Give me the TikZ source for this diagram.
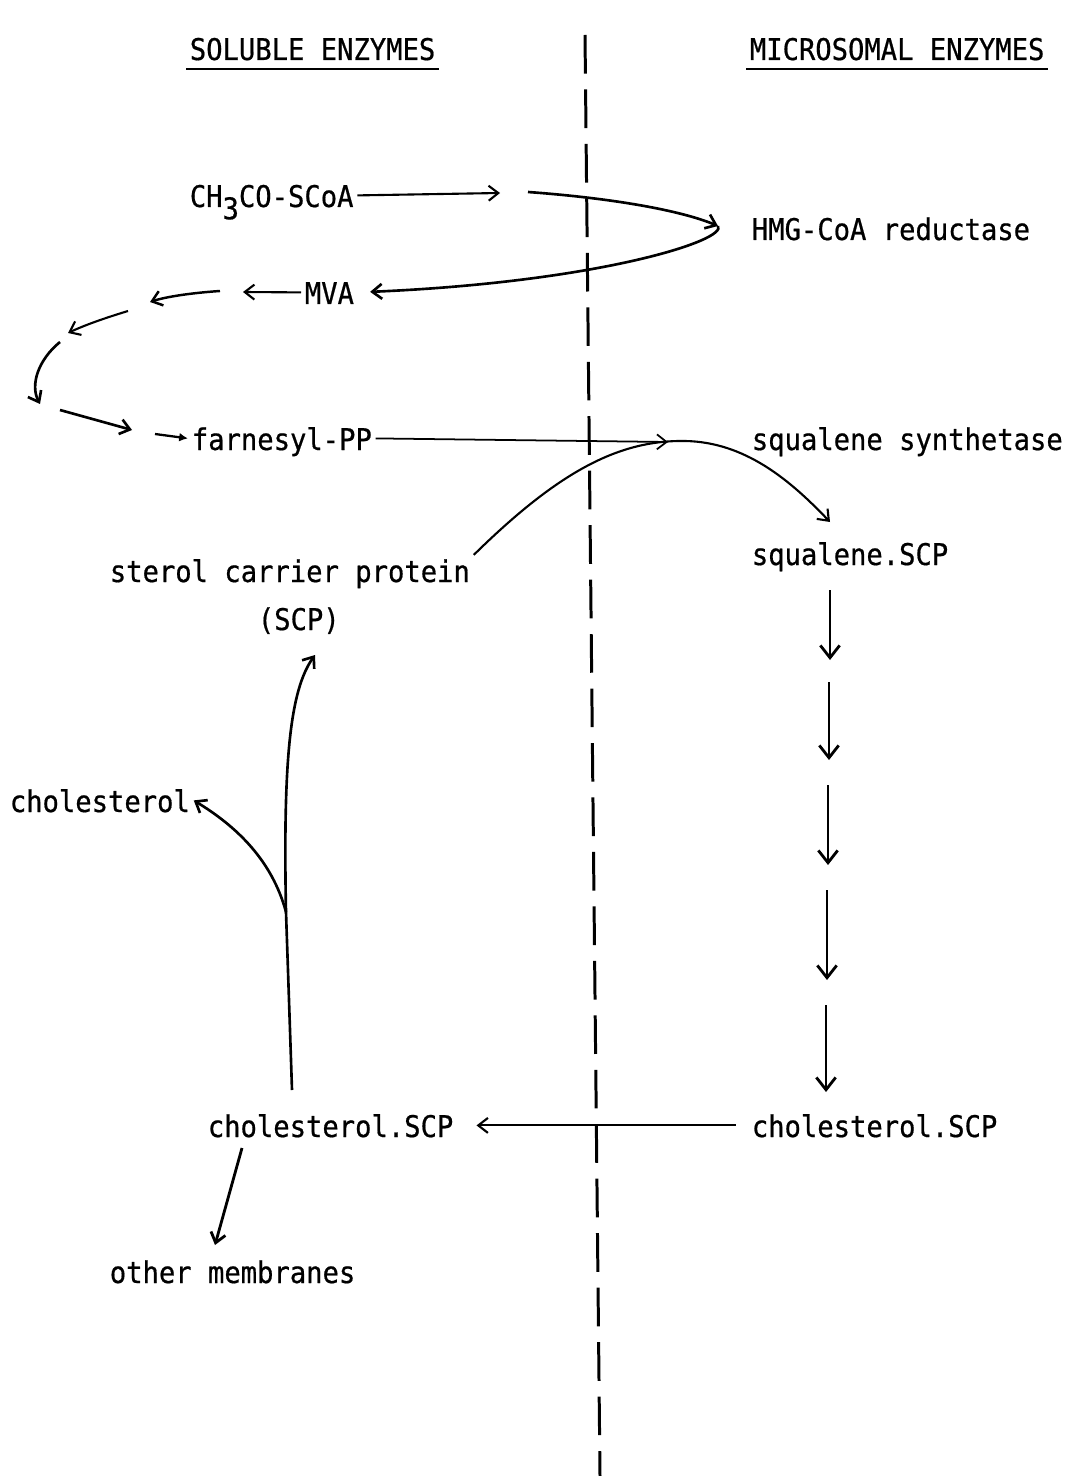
\documentclass[tikz,border=0pt]{standalone}
\usepackage{fontspec}
\newfontfamily\typewriter[FakeBold=0.6, FakeStretch=0.91]{DejaVu Sans Mono}
\usetikzlibrary{arrows.meta}
\begin{document}
\begin{tikzpicture}[
  x=0.02cm, y=-0.02cm,
  txt/.style={font=\typewriter\fontsize{17}{20}\selectfont, inner sep=2pt, anchor=base west, text height=13.2pt, text depth=0pt},
  arr/.style={-{Straight Barb[length=5.5pt,width=8.5pt]}, line width=1.2pt},
  bigarr/.style={-{Straight Barb[length=7pt,width=11pt]}, line width=1.6pt},
  solidarr/.style={-{Latex[length=5pt,width=5pt]}, line width=1.3pt},
  divider/.style={line width=1.7pt, dash pattern=on 22pt off 9pt}
]
\useasboundingbox (0,0) rectangle (1071,1476);

% Headings
\node[txt] (soluble) at (186,60) {SOLUBLE ENZYMES};
\node[txt] (microsomal) at (746,60) {MICROSOMAL ENZYMES};
\draw[line width=1.1pt] ([yshift=-3pt]soluble.south west) -- ([yshift=-3pt]soluble.south east);
\draw[line width=1.1pt] ([yshift=-3pt]microsomal.south west) -- ([yshift=-3pt]microsomal.south east);

% Dividing line
\coordinate (dtop) at (585,35);
\coordinate (dbottom) at (600,1476);
\draw[divider] (dtop) -- (dbottom);

% Soluble side
\node[txt] (acetyl) at (186,207) {CH\raisebox{-0.75ex}{3}CO-SCoA};
\node[txt] (mva) at (301,304) {MVA};
\node[txt] (farnesyl) at (188,450) {farnesyl-PP};
\node[txt] (scp) at (106,582) {sterol carrier protein};
\node[txt] (scpabbr) at (254,630) {(SCP)};
\node[txt] (chol) at (6,812) {cholesterol};
\node[txt] (cholscpL) at (204,1137) {cholesterol.SCP};
\node[txt] (membranes) at (106,1283) {other membranes};

% Microsomal side
\node[txt] (hmg) at (748,240) {HMG-CoA reductase};
\node[txt] (synthetase) at (748,450) {squalene synthetase};
\node[txt] (sqscp) at (748,565) {squalene.SCP};
\node[txt] (cholscpR) at (748,1137) {cholesterol.SCP};

% Free ends
\coordinate (a1) at (500,193);
\coordinate (a2) at (528,192);
\coordinate (hmgtip) at (718,226);
\coordinate (c1) at (243,292);
\coordinate (c2) at (220,291);
\coordinate (c3) at (150,302);
\coordinate (c4) at (128,311);
\coordinate (c5) at (68,333);
\coordinate (c6) at (60,342);
\coordinate (c7) at (40,404);
\coordinate (c8) at (60,410);
\coordinate (c9) at (132,430);
\coordinate (c10) at (155,434);
\coordinate (c11) at (668,442);
\coordinate (peak) at (685,441);
\coordinate (sqtip) at (830,522);
\coordinate (stem) at (292,1090);
\coordinate (fork) at (286,912);
\coordinate (scptip) at (315,655);
\coordinate (m1) at (242,1148);
\coordinate (m2) at (215,1245);

% Acetyl-CoA to MVA
\draw[arr] (acetyl.east) -- (a1);
\draw[arr, line width=1.5pt] (a2) .. controls (610,198) and (680,210) .. (hmgtip);
\draw[arr, line width=1.5pt, shorten >=7pt] (hmgtip) .. controls (728,240) and (600,282) .. (mva.east);

% MVA to farnesyl-PP
\draw[arr] (mva.west) -- (c1);
\draw[arr, line width=1.4pt] (c2) .. controls (190,293) and (165,297) .. (c3);
\draw[arr] (c4) .. controls (105,318) and (85,325) .. (c5);
\draw[arr, line width=1.5pt] (c6) .. controls (38,360) and (30,385) .. (c7);
\draw[arr, line width=1.5pt] (c8) -- (c9);
\draw[solidarr] (c10) -- (farnesyl.west);

% Squalene synthetase
\draw[arr, line width=1pt] (farnesyl.east) -- (c11);
\draw[arr] (scp.north east) .. controls (560,470) and (620,440) .. (peak)
  .. controls (745,442) and (790,480) .. (sqtip);

% Microsomal steps
\foreach \i/\ya/\yb/\xx in {1/590/660/830, 2/682/760/829, 3/785/865/828, 4/890/980/827, 5/1005/1092/826} {
  \coordinate (s\i) at (\xx,\ya);
  \coordinate (e\i) at (\xx,\yb);
  \draw[bigarr] (s\i) -- (e\i);
}

% Transfer to the soluble side
\draw[arr, shorten >=11pt, shorten <=7pt] (cholscpR.west) -- (cholscpL.east);

% Fate of cholesterol.SCP
\draw[line width=1.5pt] (stem) .. controls (289,1000) .. (fork);
\draw[arr, line width=1.5pt] (fork) .. controls (283,760) and (290,690) .. (scptip);
\draw[arr, line width=1.5pt] (fork) .. controls (272,860) and (236,826) .. (chol.east);
\draw[arr, line width=1.6pt] (m1) -- (m2);
\end{tikzpicture}
\end{document}
